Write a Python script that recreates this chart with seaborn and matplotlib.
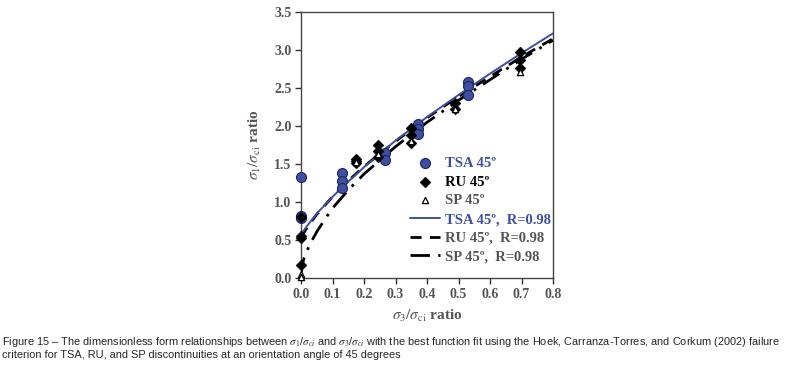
import matplotlib
matplotlib.use("Agg")
import numpy as np
import seaborn as sns
from matplotlib import pyplot as plt

# measured points (sigma3/sigma_ci, sigma1/sigma_ci)
tsa_x = [0.0, 0.0, 0.0, 0.13, 0.13, 0.13, 0.265, 0.265, 0.37, 0.37, 0.37, 0.53, 0.53, 0.53]
tsa_y = [1.33, 0.82, 0.79, 1.38, 1.28, 1.19, 1.64, 1.55, 2.03, 1.96, 1.89, 2.58, 2.53, 2.41]

ru_x = [0.0, 0.0, 0.0, 0.0, 0.175, 0.175, 0.175, 0.245, 0.245, 0.245,
        0.35, 0.35, 0.35, 0.49, 0.49, 0.695, 0.695, 0.695]
ru_y = [0.80, 0.55, 0.53, 0.17, 1.57, 1.54, 1.51, 1.75, 1.67, 1.60,
        1.98, 1.88, 1.78, 2.30, 2.22, 2.97, 2.87, 2.76]

sp_x = [0.0, 0.0, 0.175, 0.245, 0.35, 0.49, 0.695]
sp_y = [0.05, 0.01, 1.53, 1.63, 1.80, 2.22, 2.71]

# best-fit curves
fit_x = [0.0, 0.02, 0.05, 0.1, 0.15, 0.2, 0.3, 0.4, 0.5, 0.6, 0.7, 0.8]
tsa_fit = [0.58, 0.69, 0.85, 1.07, 1.27, 1.46, 1.81, 2.12, 2.41, 2.69, 2.96, 3.22]
ru_fit = [0.54, 0.67, 0.84, 1.07, 1.28, 1.47, 1.80, 2.11, 2.39, 2.65, 2.91, 3.15]
sp_fit_x = [0.0, 0.003, 0.01, 0.02, 0.03, 0.05, 0.075, 0.1, 0.15, 0.2, 0.3, 0.4, 0.5, 0.6, 0.7, 0.8]
sp_fit = [0.02, 0.16, 0.27, 0.37, 0.46, 0.61, 0.77, 0.92, 1.16, 1.37, 1.73, 2.05, 2.34, 2.61, 2.88, 3.13]

labels = ["TSA 45º", "RU 45º", "SP 45º",
          "TSA 45º,  R=0.98", "RU 45º,  R=0.98", "SP 45º,  R=0.98"]
caption = ("Figure 15 \u2013 The dimensionless form relationships between $\\sigma_1$/$\\sigma_{ci}$ and "
           "$\\sigma_3$/$\\sigma_{ci}$ with the best function fit using the Hoek, Carranza-Torres, "
           "and Corkum (2002) failure\ncriterion for TSA, RU, and SP discontinuities at an "
           "orientation angle of 45 degrees")

sns.set_theme(style="white")
plt.rcParams["font.family"] = ["Liberation Serif", "DejaVu Serif"]
plt.rcParams["mathtext.fontset"] = "stix"

blue = "#3f4fa0"
grey_txt = "#555555"

fig = plt.figure(figsize=(7.87, 3.66), dpi=100)
ax = fig.add_axes([0.3825, 0.240, 0.3202, 0.727])

sns.lineplot(ax=ax, x=fit_x, y=tsa_fit, color=blue, linewidth=1.4,
             label=labels[3], zorder=4)
sns.lineplot(ax=ax, x=fit_x, y=ru_fit, color="black", linewidth=2.0,
             linestyle=(0, (4, 3)), label=labels[4], zorder=3)
sns.lineplot(ax=ax, x=sp_fit_x, y=sp_fit, color="black", linewidth=2.0,
             linestyle=(0, (7, 3, 1, 3)), label=labels[5], zorder=3)

sns.scatterplot(ax=ax, x=tsa_x, y=tsa_y, color=blue, edgecolor="#1d2760",
                linewidth=0.8, s=52, marker="o", label=labels[0], zorder=5)
sns.scatterplot(ax=ax, x=ru_x, y=ru_y, color="black", edgecolor="black",
                s=30, marker="D", label=labels[1], zorder=6)
sns.scatterplot(ax=ax, x=sp_x, y=sp_y, color="white", edgecolor="black",
                linewidth=0.9, s=20, marker="^", label=labels[2], zorder=7)
for coll in ax.collections:
    coll.set_clip_on(False)

ax.set_xlim(0, 0.8)
ax.set_ylim(0, 3.5)
ax.set_xticks(np.arange(0, 0.81, 0.1))
ax.set_yticks(np.arange(0, 3.51, 0.5))
ax.set_xticklabels([f"{v:.1f}" for v in np.arange(0, 0.81, 0.1)])
ax.set_yticklabels([f"{v:.1f}" for v in np.arange(0, 3.51, 0.5)])
ax.tick_params(direction="out", length=4, width=1, color="#333333",
               labelsize=10, labelcolor=grey_txt, bottom=True, left=True, pad=3)
for lab in ax.get_xticklabels() + ax.get_yticklabels():
    lab.set_fontweight("bold")
for sp in ax.spines.values():
    sp.set_color("#444444")
    sp.set_linewidth(1.0)

ax.set_xlabel(r"$\sigma_3/\sigma_{\rm ci}$ ratio", fontsize=11, color=grey_txt,
              fontweight="bold", labelpad=5)
ax.set_ylabel(r"$\sigma_1/\sigma_{\rm ci}$ ratio", fontsize=11, color=grey_txt,
              fontweight="bold", labelpad=8)

handles, _ = ax.get_legend_handles_labels()
order = [3, 4, 5, 0, 1, 2]
leg = ax.legend([handles[i] for i in order], labels, loc="lower right",
                bbox_to_anchor=(1.028, 0.022), frameon=False, handlelength=2.1,
                handletextpad=0.35, labelspacing=0.38, borderaxespad=0.2,
                prop={"family": "Liberation Serif", "weight": "bold", "size": 10.5})
text_colors = [blue, "black", grey_txt, blue, grey_txt, grey_txt]
for txt, c in zip(leg.get_texts(), text_colors):
    txt.set_color(c)

fig.text(0.003, 0.085, caption, fontsize=7.95, ha="left", va="top",
         family=["Liberation Sans Narrow", "Liberation Sans", "DejaVu Sans"],
         linespacing=1.2)

fig.savefig("out.png", dpi=100)
